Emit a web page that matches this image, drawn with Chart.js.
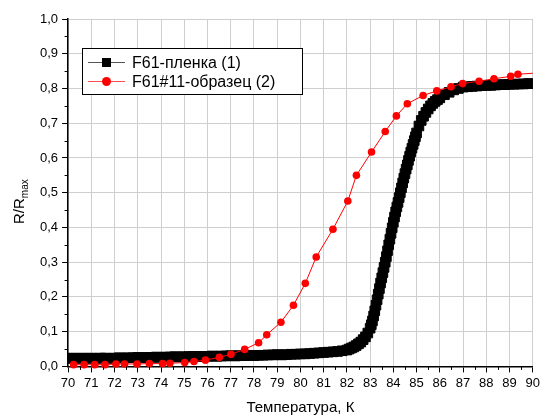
<!DOCTYPE html>
<html>
<head>
<meta charset="utf-8">
<script src="https://cdn.jsdelivr.net/npm/chart.js@4"></script>
<style>
  body { margin: 0; background: #fff; }
  canvas { display: block; }
</style>
</head>
<body>
<canvas id="chart" width="543" height="417"></canvas>
<script>
const xTicks = [70, 71, 72, 73, 74, 75, 76, 77, 78, 79, 80, 81, 82, 83, 84, 85, 86, 87, 88, 89, 90];
const yTicks = [0, 0.1, 0.2, 0.3, 0.4, 0.5, 0.6, 0.7, 0.8, 0.9, 1.0];

const filmLabel = "F61-пленка (1)";
const filmT = [
    70.0, 70.2, 70.4, 70.6, 70.8, 71.0, 71.2, 71.4, 71.6, 71.8,
    72.0, 72.2, 72.4, 72.6, 72.8, 73.0, 73.2, 73.4, 73.6, 73.8,
    74.0, 74.2, 74.4, 74.6, 74.8, 75.0, 75.2, 75.4, 75.6, 75.8,
    76.0, 76.2, 76.4, 76.6, 76.8, 77.0, 77.2, 77.4, 77.6, 77.8,
    78.0, 78.2, 78.4, 78.6, 78.8, 79.0, 79.2, 79.4, 79.6, 79.8,
    80.0, 80.2, 80.4, 80.6, 80.8, 81.0, 81.2, 81.4, 81.6, 81.8,
    82.0, 82.1, 82.2, 82.3, 82.4, 82.5, 82.6, 82.7, 82.8, 82.9,
    83.0, 83.05, 83.1, 83.15, 83.2, 83.25, 83.3, 83.35, 83.4, 83.45,
    83.5, 83.55, 83.6, 83.65, 83.7, 83.75, 83.8, 83.85, 83.9, 83.95,
    84.0, 84.05, 84.1, 84.15, 84.2, 84.25, 84.3, 84.35, 84.4, 84.45,
    84.5, 84.55, 84.6, 84.65, 84.7, 84.75, 84.8, 84.85, 84.9, 84.95,
    85.0, 85.1, 85.2, 85.3, 85.4, 85.5, 85.6, 85.7, 85.8, 85.9,
    86.0, 86.2, 86.4, 86.6, 86.8, 87.0, 87.2, 87.4, 87.6, 87.8,
    88.0, 88.2, 88.4, 88.6, 88.8, 89.0, 89.2, 89.4, 89.6, 89.8, 89.9
];
const filmR = [
    0.023, 0.024, 0.023, 0.024, 0.023, 0.024, 0.023, 0.024, 0.024, 0.023,
    0.024, 0.025, 0.024, 0.025, 0.025, 0.026, 0.025, 0.026, 0.026, 0.027,
    0.026, 0.027, 0.027, 0.028, 0.027, 0.028, 0.028, 0.029, 0.028, 0.029,
    0.029, 0.030, 0.029, 0.030, 0.030, 0.031, 0.030, 0.031, 0.031, 0.032,
    0.031, 0.032, 0.032, 0.033, 0.033, 0.034, 0.033, 0.034, 0.035, 0.035,
    0.036, 0.036, 0.037, 0.038, 0.039, 0.040, 0.041, 0.042, 0.043, 0.045,
    0.047, 0.050, 0.053, 0.056, 0.060, 0.065, 0.070, 0.077, 0.085, 0.096,
    0.110, 0.120, 0.131, 0.145, 0.160, 0.176, 0.192, 0.208, 0.224, 0.240,
    0.255, 0.270, 0.285, 0.300, 0.316, 0.333, 0.350, 0.366, 0.383, 0.399,
    0.415, 0.430, 0.445, 0.459, 0.472, 0.486, 0.500, 0.514, 0.528, 0.542,
    0.555, 0.568, 0.580, 0.593, 0.605, 0.617, 0.628, 0.639, 0.650, 0.661,
    0.672, 0.692, 0.708, 0.720, 0.731, 0.741, 0.750, 0.757, 0.763, 0.768,
    0.773, 0.782, 0.789, 0.796, 0.800, 0.804, 0.805, 0.806, 0.807, 0.808,
    0.809, 0.809, 0.810, 0.811, 0.811, 0.812, 0.812, 0.813, 0.813, 0.814, 0.814
];

const sampleLabel = "F61#11-образец (2)";
const sampleT = [
    70.24, 70.69, 71.15, 71.59, 72.06, 72.43, 72.97, 73.50, 74.07, 74.38,
    75.02, 75.42, 75.91, 76.51, 77.01, 77.60, 78.20, 78.55, 79.16, 79.70,
    80.21, 80.68, 81.40, 82.04, 82.41, 83.06, 83.65, 84.13, 84.60, 85.28,
    85.87, 86.48, 86.98, 87.69, 88.33, 89.05, 89.36, 90.5
];
const sampleR = [
    0.005, 0.005, 0.005, 0.005, 0.007, 0.007, 0.007, 0.008, 0.008, 0.009,
    0.011, 0.014, 0.018, 0.026, 0.035, 0.049, 0.068, 0.091, 0.127, 0.176,
    0.239, 0.315, 0.395, 0.476, 0.550, 0.617, 0.676, 0.721, 0.756, 0.780,
    0.793, 0.805, 0.814, 0.821, 0.828, 0.835, 0.841, 0.846
];

const xTitle = "Температура, К";
const fontName = "'Liberation Sans', Arial, sans-serif";

let toPoints = (xs, ys) => xs.map((x, i) => ({ x: x, y: ys[i] }));
let comma = (v) => v.toFixed(1).replace(".", ",");

const extras = {
    id: "extras",
    afterDraw: (chart) => {
        const ctx = chart.ctx;
        const xs = chart.scales.x;
        const ys = chart.scales.y;
        const area = chart.chartArea;
        ctx.save();

        // minor ticks
        ctx.strokeStyle = "#000";
        ctx.lineWidth = 1;
        ctx.beginPath();
        for (let i = 0; i < xTicks.length - 1; i++) {
            let px = Math.round(xs.getPixelForValue((xTicks[i] + xTicks[i + 1]) / 2)) + 0.5;
            ctx.moveTo(px, area.bottom);
            ctx.lineTo(px, area.bottom + 3.5);
        }
        for (let i = 0; i < yTicks.length - 1; i++) {
            let py = Math.round(ys.getPixelForValue((yTicks[i] + yTicks[i + 1]) / 2)) + 0.5;
            ctx.moveTo(area.left, py);
            ctx.lineTo(area.left - 3.5, py);
        }
        ctx.stroke();

        // axis titles
        ctx.fillStyle = "#000";
        ctx.font = "15px " + fontName;
        ctx.textAlign = "center";
        ctx.textBaseline = "middle";
        ctx.fillText(xTitle, (area.left + area.right) / 2, 408);

        ctx.save();
        ctx.translate(24, 224);
        ctx.rotate(-Math.PI / 2);
        ctx.textAlign = "left";
        ctx.textBaseline = "alphabetic";
        ctx.font = "15px " + fontName;
        ctx.fillText("R/R", 0, 0);
        let w = ctx.measureText("R/R").width;
        ctx.font = "10px " + fontName;
        ctx.fillText("max", w, 4);
        ctx.restore();

        // legend
        const bx = 82.5, by = 48.5, bw = 220, bh = 46;
        ctx.fillStyle = "#fff";
        ctx.fillRect(bx, by, bw, bh);
        ctx.strokeStyle = "#000";
        ctx.lineWidth = 1;
        ctx.strokeRect(bx, by, bw, bh);

        const rows = [
            { y: 62.5, label: filmLabel, line: "#555", mark: "rect" },
            { y: 81.5, label: sampleLabel, line: "#ff5050", mark: "circle" }
        ];
        for (let r of rows) {
            ctx.strokeStyle = r.line;
            ctx.beginPath();
            ctx.moveTo(88, r.y);
            ctx.lineTo(125, r.y);
            ctx.stroke();
            if (r.mark === "rect") {
                ctx.fillStyle = "#000";
                ctx.fillRect(102, r.y - 4.5, 9, 9);
            } else {
                ctx.fillStyle = "#ff0000";
                ctx.beginPath();
                ctx.arc(106.5, r.y, 4.5, 0, Math.PI * 2);
                ctx.fill();
            }
            ctx.fillStyle = "#000";
            ctx.font = "16px " + fontName;
            ctx.textAlign = "left";
            ctx.textBaseline = "middle";
            ctx.fillText(r.label, 132, r.y + 1);
        }
        ctx.restore();
    }
};

new Chart(document.getElementById("chart"), {
    type: "line",
    data: {
        datasets: [
            {
                label: filmLabel,
                data: toPoints(filmT, filmR),
                borderColor: "#000",
                backgroundColor: "#000",
                borderWidth: 1,
                pointStyle: "rect",
                pointRadius: 6.8,
                pointBorderWidth: 1,
                pointBorderColor: "#000",
                order: 2
            },
            {
                label: sampleLabel,
                data: toPoints(sampleT, sampleR),
                borderColor: "#ff0000",
                backgroundColor: "#ff0000",
                borderWidth: 1,
                pointStyle: "circle",
                pointRadius: 3.8,
                pointBorderWidth: 0,
                clip: { left: 0, top: 0, right: 0, bottom: 6 },
                order: 1
            }
        ]
    },
    options: {
        responsive: false,
        animation: false,
        devicePixelRatio: 1,
        layout: { padding: { left: 36, right: 0, top: 19, bottom: 23 } },
        plugins: {
            legend: { display: false },
            tooltip: { enabled: false }
        },
        scales: {
            x: {
                type: "linear",
                min: 70,
                max: 90,
                afterBuildTicks: (axis) => { axis.ticks = xTicks.map(v => ({ value: v })); },
                ticks: {
                    color: "#000",
                    font: { family: fontName, size: 13 },
                    padding: 3,
                    maxRotation: 0,
                    autoSkip: false
                },
                grid: { color: "#cfcfcf", lineWidth: 1, tickLength: 6, tickColor: "#000" },
                border: { color: "#000", width: 1.5 }
            },
            y: {
                min: 0,
                max: 1,
                afterBuildTicks: (axis) => { axis.ticks = yTicks.map(v => ({ value: v })); },
                ticks: {
                    color: "#000",
                    font: { family: fontName, size: 13 },
                    padding: 4,
                    callback: (v) => comma(v)
                },
                grid: { color: "#cfcfcf", lineWidth: 1, tickLength: 6, tickColor: "#000" },
                border: { color: "#000", width: 1.5 }
            }
        }
    },
    plugins: [extras]
});
</script>
</body>
</html>
